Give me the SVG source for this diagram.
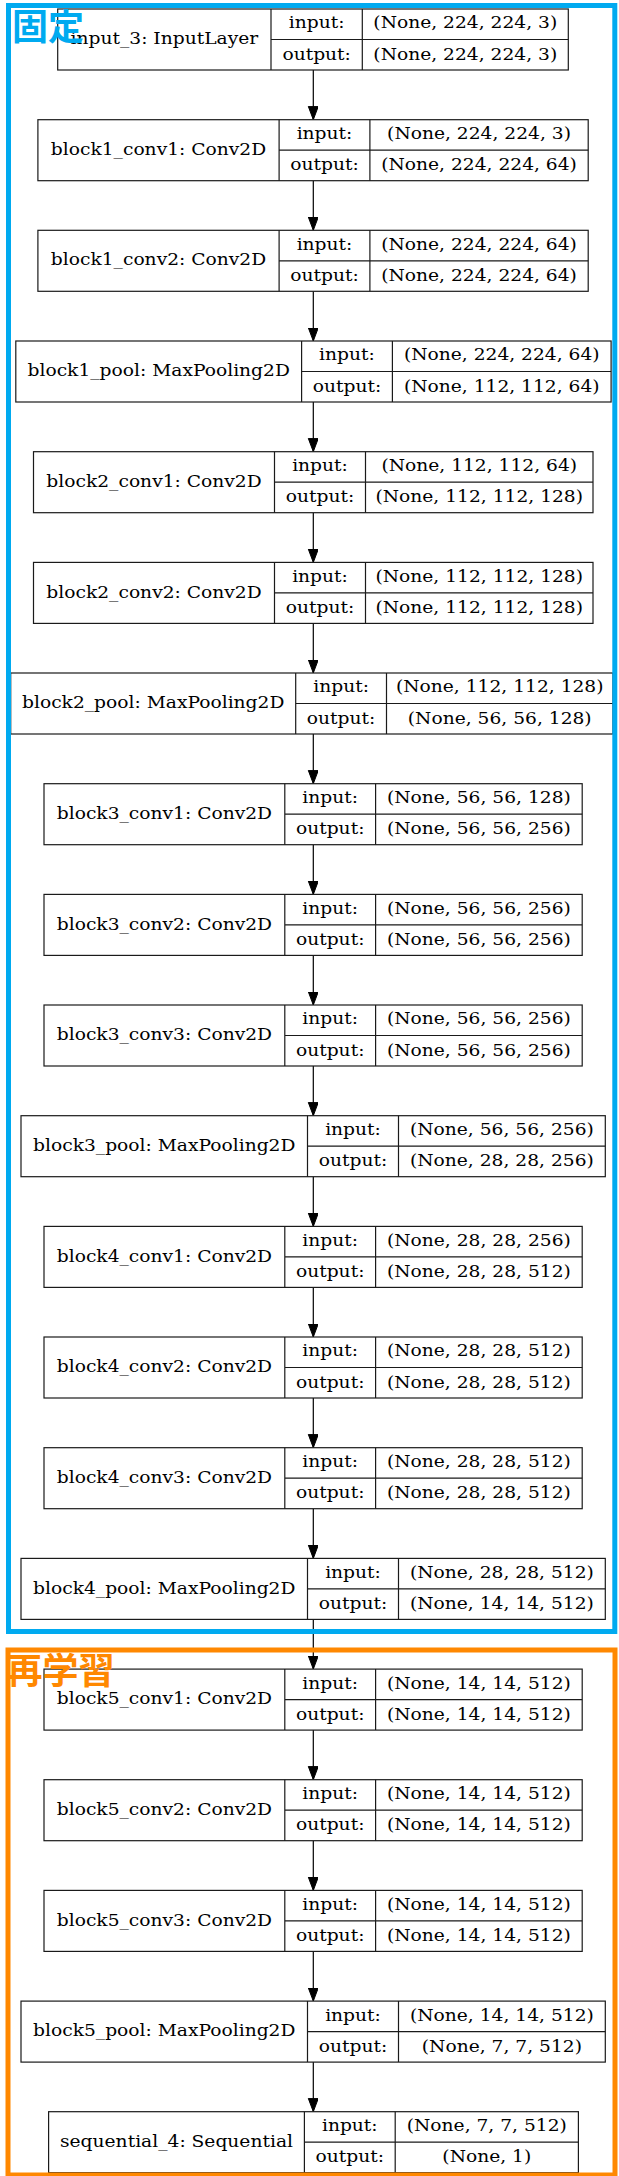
<svg xmlns="http://www.w3.org/2000/svg" width="619" height="2176" viewBox="0 0 619 2176">
<style>
.box{fill:#fff;stroke:#1a1a1a;stroke-width:1.2}
.ln{stroke:#1a1a1a;stroke-width:1.2;fill:none}
.t{font-family:"DejaVu Serif",serif;font-size:18.67px;fill:#000;text-anchor:middle}
.edge{stroke:#000;stroke-width:1.2;fill:none;marker-end:url(#arr)}
.grp{fill:none;stroke-width:5}
.lab{font-family:"Noto Sans CJK JP","Noto Sans CJK SC",sans-serif;font-size:36px;font-weight:bold}
</style>
<defs>
<marker id="arr" markerUnits="userSpaceOnUse" markerWidth="14" markerHeight="11" refX="13.3" refY="5" orient="auto">
<path d="M0,0 L13.3,5 L0,10 z" fill="#000" stroke="#000" stroke-width="1"/>
</marker>
</defs>
<rect x="0" y="0" width="619" height="2176" fill="#fff"/>
<g id="connectors">
<line class="edge" x1="313.3" y1="70" x2="313.3" y2="119.7"/>
<line class="edge" x1="313.3" y1="180.7" x2="313.3" y2="230.3"/>
<line class="edge" x1="313.3" y1="291.3" x2="313.3" y2="341"/>
<line class="edge" x1="313.3" y1="402" x2="313.3" y2="451.7"/>
<line class="edge" x1="313.3" y1="512.7" x2="313.3" y2="562.4"/>
<line class="edge" x1="313.3" y1="623.4" x2="313.3" y2="673"/>
<line class="edge" x1="313.3" y1="734" x2="313.3" y2="783.7"/>
<line class="edge" x1="313.3" y1="844.7" x2="313.3" y2="894.4"/>
<line class="edge" x1="313.3" y1="955.4" x2="313.3" y2="1005"/>
<line class="edge" x1="313.3" y1="1066" x2="313.3" y2="1115.7"/>
<line class="edge" x1="313.3" y1="1176.7" x2="313.3" y2="1226.4"/>
<line class="edge" x1="313.3" y1="1287.4" x2="313.3" y2="1337"/>
<line class="edge" x1="313.3" y1="1398" x2="313.3" y2="1447.7"/>
<line class="edge" x1="313.3" y1="1508.7" x2="313.3" y2="1558.4"/>
<line class="edge" x1="313.3" y1="1619.4" x2="313.3" y2="1669.1"/>
<line class="edge" x1="313.3" y1="1730.1" x2="313.3" y2="1779.7"/>
<line class="edge" x1="313.3" y1="1840.7" x2="313.3" y2="1890.4"/>
<line class="edge" x1="313.3" y1="1951.4" x2="313.3" y2="2001.1"/>
<line class="edge" x1="313.3" y1="2062.1" x2="313.3" y2="2111.7"/>
</g>

<g id="input_3" transform="translate(0,9)">
<rect class="box" x="57.7" y="0" width="510.6" height="61"/>
<path class="ln" d="M271,0V61M362.3,0V61M271,30.5H568.3"/>
<g transform="scale(1,0.85)">
<text class="t" x="164.35" y="41.41">input_3: InputLayer</text>
<text class="t" x="316.65" y="22.94">input:</text>
<text class="t" x="316.65" y="59.65">output:</text>
<text class="t" x="465.3" y="22.94">(None, 224, 224, 3)</text>
<text class="t" x="465.3" y="59.65">(None, 224, 224, 3)</text>
</g>
</g>

<g id="block1_conv1" transform="translate(0,119.7)">
<rect class="box" x="37.9" y="0" width="550.3" height="61"/>
<path class="ln" d="M279.1,0V61M369.9,0V61M279.1,30.5H588.2"/>
<g transform="scale(1,0.85)">
<text class="t" x="158.5" y="41.41">block1_conv1: Conv2D</text>
<text class="t" x="324.5" y="22.94">input:</text>
<text class="t" x="324.5" y="59.65">output:</text>
<text class="t" x="479.05" y="22.94">(None, 224, 224, 3)</text>
<text class="t" x="479.05" y="59.65">(None, 224, 224, 64)</text>
</g>
</g>

<g id="block1_conv2" transform="translate(0,230.3)">
<rect class="box" x="37.9" y="0" width="550.3" height="61"/>
<path class="ln" d="M279.1,0V61M369.9,0V61M279.1,30.5H588.2"/>
<g transform="scale(1,0.85)">
<text class="t" x="158.5" y="41.41">block1_conv2: Conv2D</text>
<text class="t" x="324.5" y="22.94">input:</text>
<text class="t" x="324.5" y="59.65">output:</text>
<text class="t" x="479.05" y="22.94">(None, 224, 224, 64)</text>
<text class="t" x="479.05" y="59.65">(None, 224, 224, 64)</text>
</g>
</g>

<g id="block1_pool" transform="translate(0,341)">
<rect class="box" x="15.8" y="0" width="595.3" height="61"/>
<path class="ln" d="M301.6,0V61M392.4,0V61M301.6,30.5H611.1"/>
<g transform="scale(1,0.85)">
<text class="t" x="158.7" y="41.41">block1_pool: MaxPooling2D</text>
<text class="t" x="347" y="22.94">input:</text>
<text class="t" x="347" y="59.65">output:</text>
<text class="t" x="501.75" y="22.94">(None, 224, 224, 64)</text>
<text class="t" x="501.75" y="59.65">(None, 112, 112, 64)</text>
</g>
</g>

<g id="block2_conv1" transform="translate(0,451.7)">
<rect class="box" x="33.5" y="0" width="559.5" height="61"/>
<path class="ln" d="M274.5,0V61M365.5,0V61M274.5,30.5H593"/>
<g transform="scale(1,0.85)">
<text class="t" x="154" y="41.41">block2_conv1: Conv2D</text>
<text class="t" x="320" y="22.94">input:</text>
<text class="t" x="320" y="59.65">output:</text>
<text class="t" x="479.25" y="22.94">(None, 112, 112, 64)</text>
<text class="t" x="479.25" y="59.65">(None, 112, 112, 128)</text>
</g>
</g>

<g id="block2_conv2" transform="translate(0,562.4)">
<rect class="box" x="33.5" y="0" width="559.5" height="61"/>
<path class="ln" d="M274.5,0V61M365.5,0V61M274.5,30.5H593"/>
<g transform="scale(1,0.85)">
<text class="t" x="154" y="41.41">block2_conv2: Conv2D</text>
<text class="t" x="320" y="22.94">input:</text>
<text class="t" x="320" y="59.65">output:</text>
<text class="t" x="479.25" y="22.94">(None, 112, 112, 128)</text>
<text class="t" x="479.25" y="59.65">(None, 112, 112, 128)</text>
</g>
</g>

<g id="block2_pool" transform="translate(0,673)">
<rect class="box" x="10.7" y="0" width="602.3" height="61"/>
<path class="ln" d="M295.7,0V61M386.5,0V61M295.7,30.5H613"/>
<g transform="scale(1,0.85)">
<text class="t" x="153.2" y="41.41">block2_pool: MaxPooling2D</text>
<text class="t" x="341.1" y="22.94">input:</text>
<text class="t" x="341.1" y="59.65">output:</text>
<text class="t" x="499.75" y="22.94">(None, 112, 112, 128)</text>
<text class="t" x="499.75" y="59.65">(None, 56, 56, 128)</text>
</g>
</g>

<g id="block3_conv1" transform="translate(0,783.7)">
<rect class="box" x="44" y="0" width="538.2" height="61"/>
<path class="ln" d="M284.8,0V61M375.6,0V61M284.8,30.5H582.2"/>
<g transform="scale(1,0.85)">
<text class="t" x="164.4" y="41.41">block3_conv1: Conv2D</text>
<text class="t" x="330.2" y="22.94">input:</text>
<text class="t" x="330.2" y="59.65">output:</text>
<text class="t" x="478.9" y="22.94">(None, 56, 56, 128)</text>
<text class="t" x="478.9" y="59.65">(None, 56, 56, 256)</text>
</g>
</g>

<g id="block3_conv2" transform="translate(0,894.4)">
<rect class="box" x="44" y="0" width="538.2" height="61"/>
<path class="ln" d="M284.8,0V61M375.6,0V61M284.8,30.5H582.2"/>
<g transform="scale(1,0.85)">
<text class="t" x="164.4" y="41.41">block3_conv2: Conv2D</text>
<text class="t" x="330.2" y="22.94">input:</text>
<text class="t" x="330.2" y="59.65">output:</text>
<text class="t" x="478.9" y="22.94">(None, 56, 56, 256)</text>
<text class="t" x="478.9" y="59.65">(None, 56, 56, 256)</text>
</g>
</g>

<g id="block3_conv3" transform="translate(0,1005)">
<rect class="box" x="44" y="0" width="538.2" height="61"/>
<path class="ln" d="M284.8,0V61M375.6,0V61M284.8,30.5H582.2"/>
<g transform="scale(1,0.85)">
<text class="t" x="164.4" y="41.41">block3_conv3: Conv2D</text>
<text class="t" x="330.2" y="22.94">input:</text>
<text class="t" x="330.2" y="59.65">output:</text>
<text class="t" x="478.9" y="22.94">(None, 56, 56, 256)</text>
<text class="t" x="478.9" y="59.65">(None, 56, 56, 256)</text>
</g>
</g>

<g id="block3_pool" transform="translate(0,1115.7)">
<rect class="box" x="21" y="0" width="584.3" height="61"/>
<path class="ln" d="M307.5,0V61M398.5,0V61M307.5,30.5H605.3"/>
<g transform="scale(1,0.85)">
<text class="t" x="164.25" y="41.41">block3_pool: MaxPooling2D</text>
<text class="t" x="353" y="22.94">input:</text>
<text class="t" x="353" y="59.65">output:</text>
<text class="t" x="501.9" y="22.94">(None, 56, 56, 256)</text>
<text class="t" x="501.9" y="59.65">(None, 28, 28, 256)</text>
</g>
</g>

<g id="block4_conv1" transform="translate(0,1226.4)">
<rect class="box" x="44" y="0" width="538.2" height="61"/>
<path class="ln" d="M284.8,0V61M375.6,0V61M284.8,30.5H582.2"/>
<g transform="scale(1,0.85)">
<text class="t" x="164.4" y="41.41">block4_conv1: Conv2D</text>
<text class="t" x="330.2" y="22.94">input:</text>
<text class="t" x="330.2" y="59.65">output:</text>
<text class="t" x="478.9" y="22.94">(None, 28, 28, 256)</text>
<text class="t" x="478.9" y="59.65">(None, 28, 28, 512)</text>
</g>
</g>

<g id="block4_conv2" transform="translate(0,1337)">
<rect class="box" x="44" y="0" width="538.2" height="61"/>
<path class="ln" d="M284.8,0V61M375.6,0V61M284.8,30.5H582.2"/>
<g transform="scale(1,0.85)">
<text class="t" x="164.4" y="41.41">block4_conv2: Conv2D</text>
<text class="t" x="330.2" y="22.94">input:</text>
<text class="t" x="330.2" y="59.65">output:</text>
<text class="t" x="478.9" y="22.94">(None, 28, 28, 512)</text>
<text class="t" x="478.9" y="59.65">(None, 28, 28, 512)</text>
</g>
</g>

<g id="block4_conv3" transform="translate(0,1447.7)">
<rect class="box" x="44" y="0" width="538.2" height="61"/>
<path class="ln" d="M284.8,0V61M375.6,0V61M284.8,30.5H582.2"/>
<g transform="scale(1,0.85)">
<text class="t" x="164.4" y="41.41">block4_conv3: Conv2D</text>
<text class="t" x="330.2" y="22.94">input:</text>
<text class="t" x="330.2" y="59.65">output:</text>
<text class="t" x="478.9" y="22.94">(None, 28, 28, 512)</text>
<text class="t" x="478.9" y="59.65">(None, 28, 28, 512)</text>
</g>
</g>

<g id="block4_pool" transform="translate(0,1558.4)">
<rect class="box" x="21" y="0" width="584.3" height="61"/>
<path class="ln" d="M307.5,0V61M398.5,0V61M307.5,30.5H605.3"/>
<g transform="scale(1,0.85)">
<text class="t" x="164.25" y="41.41">block4_pool: MaxPooling2D</text>
<text class="t" x="353" y="22.94">input:</text>
<text class="t" x="353" y="59.65">output:</text>
<text class="t" x="501.9" y="22.94">(None, 28, 28, 512)</text>
<text class="t" x="501.9" y="59.65">(None, 14, 14, 512)</text>
</g>
</g>

<g id="block5_conv1" transform="translate(0,1669.1)">
<rect class="box" x="44" y="0" width="538.2" height="61"/>
<path class="ln" d="M284.8,0V61M375.6,0V61M284.8,30.5H582.2"/>
<g transform="scale(1,0.85)">
<text class="t" x="164.4" y="41.41">block5_conv1: Conv2D</text>
<text class="t" x="330.2" y="22.94">input:</text>
<text class="t" x="330.2" y="59.65">output:</text>
<text class="t" x="478.9" y="22.94">(None, 14, 14, 512)</text>
<text class="t" x="478.9" y="59.65">(None, 14, 14, 512)</text>
</g>
</g>

<g id="block5_conv2" transform="translate(0,1779.7)">
<rect class="box" x="44" y="0" width="538.2" height="61"/>
<path class="ln" d="M284.8,0V61M375.6,0V61M284.8,30.5H582.2"/>
<g transform="scale(1,0.85)">
<text class="t" x="164.4" y="41.41">block5_conv2: Conv2D</text>
<text class="t" x="330.2" y="22.94">input:</text>
<text class="t" x="330.2" y="59.65">output:</text>
<text class="t" x="478.9" y="22.94">(None, 14, 14, 512)</text>
<text class="t" x="478.9" y="59.65">(None, 14, 14, 512)</text>
</g>
</g>

<g id="block5_conv3" transform="translate(0,1890.4)">
<rect class="box" x="44" y="0" width="538.2" height="61"/>
<path class="ln" d="M284.8,0V61M375.6,0V61M284.8,30.5H582.2"/>
<g transform="scale(1,0.85)">
<text class="t" x="164.4" y="41.41">block5_conv3: Conv2D</text>
<text class="t" x="330.2" y="22.94">input:</text>
<text class="t" x="330.2" y="59.65">output:</text>
<text class="t" x="478.9" y="22.94">(None, 14, 14, 512)</text>
<text class="t" x="478.9" y="59.65">(None, 14, 14, 512)</text>
</g>
</g>

<g id="block5_pool" transform="translate(0,2001.1)">
<rect class="box" x="21" y="0" width="584.3" height="61"/>
<path class="ln" d="M307.5,0V61M398.5,0V61M307.5,30.5H605.3"/>
<g transform="scale(1,0.85)">
<text class="t" x="164.25" y="41.41">block5_pool: MaxPooling2D</text>
<text class="t" x="353" y="22.94">input:</text>
<text class="t" x="353" y="59.65">output:</text>
<text class="t" x="501.9" y="22.94">(None, 14, 14, 512)</text>
<text class="t" x="501.9" y="59.65">(None, 7, 7, 512)</text>
</g>
</g>

<g id="sequential_4" transform="translate(0,2111.7)">
<rect class="box" x="48.6" y="0" width="529.8" height="61"/>
<path class="ln" d="M304.4,0V61M395.2,0V61M304.4,30.5H578.4"/>
<g transform="scale(1,0.85)">
<text class="t" x="176.5" y="41.41">sequential_4: Sequential</text>
<text class="t" x="349.8" y="22.94">input:</text>
<text class="t" x="349.8" y="59.65">output:</text>
<text class="t" x="486.8" y="22.94">(None, 7, 7, 512)</text>
<text class="t" x="486.8" y="59.65">(None, 1)</text>
</g>
</g>

<g id="frozen">
<rect class="grp" x="8.5" y="5.5" width="606.3" height="1626" stroke="#00aaf0"/>
<text class="lab" x="12" y="39.5" fill="#00aaf0">固定</text>
</g>
<g id="retrain">
<rect class="grp" x="8" y="1650" width="607" height="525" stroke="#ff8800" stroke-width="5.5"/>
<text class="lab" x="6.5" y="1684" fill="#ff8800">再学習</text>
</g>
</svg>
